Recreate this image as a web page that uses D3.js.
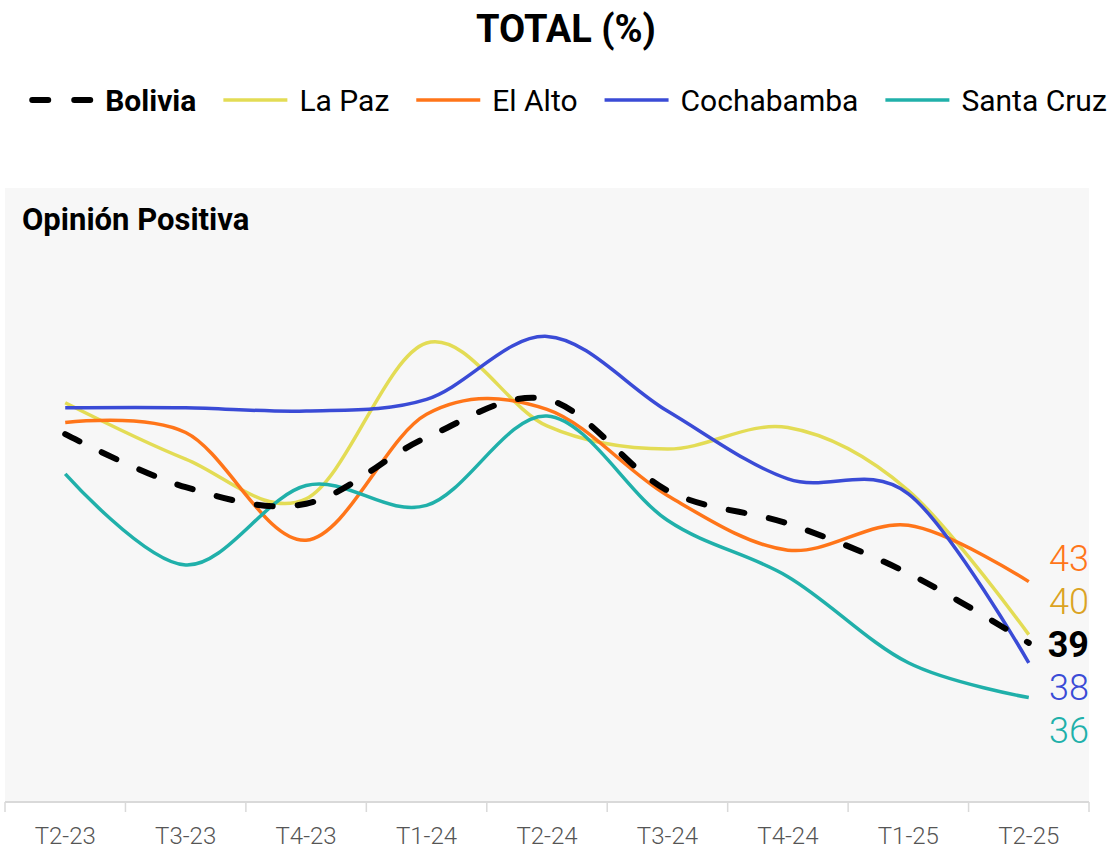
<!DOCTYPE html>
<html>
<head>
<meta charset="utf-8">
<script src="https://cdn.jsdelivr.net/npm/d3@7"></script>
<style>
  html, body { margin: 0; padding: 0; background: #ffffff; }
  svg { display: block; font-family: Roboto, "Noto Sans", sans-serif; }
</style>
</head>
<body>
<svg id="chart" width="1112" height="851"></svg>
<script>
// Quarterly share of positive opinion (%), by region
const categories = ["T2-23", "T3-23", "T4-23", "T1-24", "T2-24", "T3-24", "T4-24", "T1-25", "T2-25"];
const bolivia    = [51.9, 48.7, 47.7, 51.7, 54.0, 48.5, 46.5, 43.5, 39.3];
const laPaz      = [53.8, 50.4, 48.0, 57.4, 52.4, 51.0, 52.3, 48.5, 39.8];
const elAlto     = [52.6, 52.0, 45.5, 53.1, 53.4, 48.2, 44.9, 46.4, 43.0];
const cochabamba = [53.5, 53.5, 53.3, 54.0, 57.8, 53.3, 49.2, 48.3, 38.1];
const santaCruz  = [49.5, 44.0, 48.8, 47.6, 53.0, 46.7, 43.3, 38.1, 36.0];
const seriesNames = ["Bolivia", "La Paz", "El Alto", "Cochabamba", "Santa Cruz"];

const series = [
  { name: seriesNames[1], values: laPaz,      color: "#e3dc55", labelColor: "#dba323", dashed: false },
  { name: seriesNames[2], values: elAlto,     color: "#ff7519", labelColor: "#ff7519", dashed: false },
  { name: seriesNames[3], values: cochabamba, color: "#3a4bd6", labelColor: "#3a4bd6", dashed: false },
  { name: seriesNames[4], values: santaCruz,  color: "#20b0aa", labelColor: "#20b0aa", dashed: false },
  { name: seriesNames[0], values: bolivia,    color: "#000000", labelColor: "#000000", dashed: true }
];
const legendOrder = [4, 0, 1, 2, 3].map(i => series[i]);

const svg = d3.select("#chart");

// Title
svg.append("text")
  .attr("x", 566).attr("y", 42)
  .attr("text-anchor", "middle")
  .attr("font-size", 38).attr("font-weight", 700)
  .text("TOTAL (%)");

// Legend
const legend = svg.append("g").attr("transform", "translate(0,100)");
const symLen = 64, symGap = 12, itemGap = 27;
const items = legend.selectAll("g.item").data(legendOrder).join("g").attr("class", "item");
items.append("text")
  .attr("y", 0).attr("dy", "0.35em")
  .attr("font-size", 30)
  .attr("font-weight", d => d.dashed ? 700 : 400)
  .attr("fill", "#000")
  .text(d => d.name);
const widths = [];
items.each(function() {
  widths.push(d3.select(this).select("text").node().getComputedTextLength());
});
const totalW = widths.reduce((a, w) => a + symLen + symGap + w, 0) + itemGap * (widths.length - 1);
let cursor = 568 - totalW / 2;
items.each(function(d, i) {
  const g = d3.select(this).attr("transform", `translate(${cursor},0)`);
  g.insert("line", "text")
    .attr("x1", d.dashed ? 3 : 0).attr("x2", d.dashed ? symLen - 3 : symLen)
    .attr("y1", 0).attr("y2", 0)
    .attr("stroke", d.color)
    .attr("stroke-width", d.dashed ? 6 : 3.5)
    .attr("stroke-linecap", d.dashed ? "round" : "butt")
    .attr("stroke-dasharray", d.dashed ? "16,26" : null);
  g.select("text").attr("x", symLen + symGap);
  cursor += symLen + symGap + widths[i] + itemGap;
});

// Plot panel
const panel = { left: 5, right: 1089, top: 188, bottom: 802 };
svg.append("rect")
  .attr("x", panel.left).attr("y", panel.top)
  .attr("width", panel.right - panel.left).attr("height", panel.bottom - panel.top)
  .attr("fill", "#f7f7f7");

svg.append("text")
  .attr("x", 22).attr("y", 230)
  .attr("font-size", 31).attr("font-weight", 700)
  .text("Opinión Positiva");

const x = d3.scaleBand().domain(categories).range([panel.left, panel.right]).padding(0);
const y = d3.scaleLinear().domain([30, 67]).range([797, 184]);
const cx = c => x(c) + x.bandwidth() / 2;

// X axis: ticks on band boundaries, labels centred in each band
const axis = svg.append("g").attr("transform", `translate(0,${panel.bottom})`);
axis.append("line")
  .attr("x1", panel.left).attr("x2", panel.right)
  .attr("stroke", "#d9d9d9").attr("stroke-width", 2);
const bounds = categories.map(c => x(c)).concat([x(categories[categories.length - 1]) + x.bandwidth()]);
axis.selectAll("line.tick").data(bounds).join("line")
  .attr("class", "tick")
  .attr("x1", d => d).attr("x2", d => d)
  .attr("y1", 0).attr("y2", 10)
  .attr("stroke", "#d9d9d9").attr("stroke-width", 1.5);
axis.selectAll("text").data(categories).join("text")
  .attr("x", d => cx(d)).attr("y", 34)
  .attr("dy", "0.35em")
  .attr("text-anchor", "middle")
  .attr("font-size", 24)
  .attr("font-weight", 300)
  .attr("fill", "#555555")
  .text(d => d);

// Lines
const line = d3.line()
  .x((v, i) => cx(categories[i]))
  .y(v => y(v))
  .curve(d3.curveCardinal.tension(0));

svg.append("g").selectAll("path").data(series).join("path")
  .attr("d", d => line(d.values))
  .attr("fill", "none")
  .attr("stroke", d => d.color)
  .attr("stroke-width", d => d.dashed ? 6 : 3.5)
  .attr("stroke-linecap", d => d.dashed ? "round" : "butt")
  .attr("stroke-dasharray", d => d.dashed ? "16,25" : null);

// End labels, spread apart so they do not overlap
const last = categories.length - 1;
const labels = series.map(s => ({ s, v: s.values[last], y: y(s.values[last]) }))
  .sort((a, b) => a.y - b.y);
const minGap = 43;
for (let iter = 0; iter < 300; iter++) {
  let moved = false;
  for (let i = 1; i < labels.length; i++) {
    const overlap = minGap - (labels[i].y - labels[i - 1].y);
    if (overlap > 0.01) {
      labels[i - 1].y -= overlap / 2;
      labels[i].y += overlap / 2;
      moved = true;
    }
  }
  if (!moved) break;
}
svg.append("g").selectAll("text").data(labels).join("text")
  .attr("x", 1089).attr("y", d => d.y)
  .attr("dy", "0.36em")
  .attr("text-anchor", "end")
  .attr("font-size", 36)
  .attr("font-weight", d => d.s.dashed ? 700 : 300)
  .attr("fill", d => d.s.labelColor)
  .text(d => d3.format(".0f")(d.v));
</script>
</body>
</html>
